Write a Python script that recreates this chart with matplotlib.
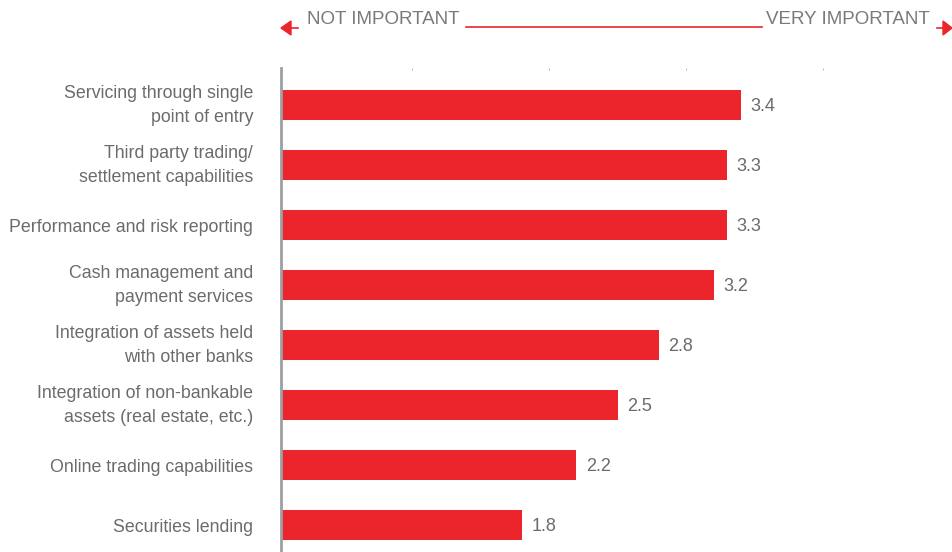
import matplotlib
matplotlib.use("Agg")
import matplotlib.pyplot as plt
from matplotlib.transforms import ScaledTranslation

plt.rcParams['font.family'] = ['Liberation Sans', 'DejaVu Sans']

categories = [
    "Servicing through single\npoint of entry",
    "Third party trading/\nsettlement capabilities",
    "Performance and risk reporting",
    "Cash management and\npayment services",
    "Integration of assets held\nwith other banks",
    "Integration of non-bankable\nassets (real estate, etc.)",
    "Online trading capabilities",
    "Securities lending",
]
scores = [3.4, 3.3, 3.3, 3.2, 2.8, 2.5, 2.2, 1.8]
scale_ticks = [1, 2, 3, 4]

RED = "#EC242B"
GREY = "#6b6b6b"

W, H = 952, 552
fig = plt.figure(figsize=(W / 100, H / 100), dpi=100)
ax = fig.add_axes([281 / W, 0, 1 - 281 / W, (H - 68) / H])

ypos = list(range(len(categories)))
ax.barh(ypos, scores, height=0.5, color=RED, left=0)
for y, v in zip(ypos, scores):
    ax.text(v + 0.07, y + 0.03, f"{v:.1f}", va="center", ha="left",
            fontsize=13, color=GREY)

ax.set_xlim(0.044, 4.94)
ax.set_ylim(7.45, -0.617)
ax.set_yticks(ypos)
ax.set_yticklabels(categories, fontsize=12.8, color=GREY, linespacing=1.55,
                   ha="right")
ax.tick_params(axis="y", length=0, pad=20)
# two-line labels sit a touch higher than the bar centre
for lbl in ax.get_yticklabels():
    if "\n" in lbl.get_text():
        lbl.set_transform(lbl.get_transform() +
                          ScaledTranslation(0, 5 / 100, fig.dpi_scale_trans))

# tiny scale marks along the top
ax.set_xticks(scale_ticks)
ax.xaxis.tick_top()
ax.tick_params(axis="x", length=1.5, width=0.6, color="#aaaaaa",
               labeltop=False, labelbottom=False, direction="in")

for side in ("top", "right", "bottom"):
    ax.spines[side].set_visible(False)
ax.spines["left"].set_color("#9aa0a4")
ax.spines["left"].set_linewidth(2)

# importance scale header
fig.text(307 / W, 1 - 20 / H, "NOT IMPORTANT", ha="left", va="center",
         fontsize=13.5, color="#7a7a7a")
fig.text(930 / W, 1 - 20 / H, "VERY IMPORTANT", ha="right", va="center",
         fontsize=13.5, color="#7a7a7a")
fig.add_artist(plt.Line2D([466 / W, 762 / W], [1 - 27 / H, 1 - 27 / H],
                          color=RED, lw=1.2, transform=fig.transFigure))
fig.add_artist(plt.Line2D([290 / W, 298 / W], [1 - 28 / H, 1 - 28 / H],
                          color=RED, lw=1.2, transform=fig.transFigure))
fig.add_artist(plt.Line2D([937 / W, 945 / W], [1 - 28 / H, 1 - 28 / H],
                          color=RED, lw=1.2, transform=fig.transFigure))
fig.add_artist(plt.Polygon([[281 / W, 1 - 28 / H], [291 / W, 1 - 21 / H],
                            [291 / W, 1 - 35 / H]],
                           color=RED, transform=fig.transFigure))
fig.add_artist(plt.Polygon([[952 / W, 1 - 28 / H], [943 / W, 1 - 21 / H],
                            [943 / W, 1 - 35 / H]],
                           color=RED, transform=fig.transFigure))

fig.savefig("out.png", dpi=100)
